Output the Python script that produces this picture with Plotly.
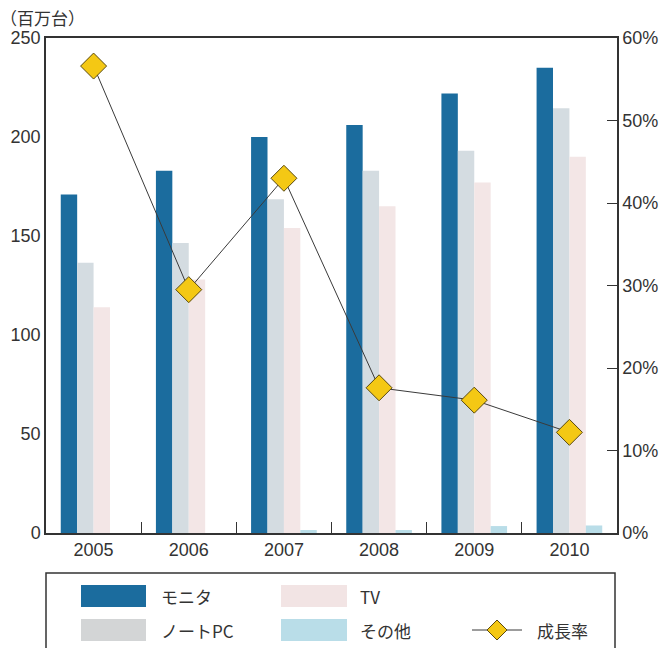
import plotly.graph_objects as go

years = ["2005", "2006", "2007", "2008", "2009", "2010"]
monitor = [171, 183, 200, 206, 222, 235]
note_pc = [136.5, 146.5, 168.5, 183, 193, 214.5]
tv = [114, 128, 154, 165, 177, 190]
other = [0, 0, 1.5, 1.5, 3.5, 3.8]
growth = [0.566, 0.295, 0.43, 0.176, 0.161, 0.122]

names = ["モニタ", "ノートPC", "TV", "その他", "成長率"]
colors = ["#1b6c9e", "#d4dce1", "#f3e6e6", "#b9dde8"]
legend_colors = ["#1b6c9e", "#d3d5d6", "#f2e4e4", "#b9dde8"]

FONT = "Liberation Sans"
CJK = "Noto Sans CJK JP"

W, H = 664, 648
L, R, T, B = 46, 617, 38, 533

fig = go.Figure()
for vals, nm, c in zip([monitor, note_pc, tv, other], names[:4], colors):
    fig.add_trace(go.Bar(x=years, y=vals, name=nm, marker=dict(color=c, line=dict(width=0)),
                         showlegend=False))

fig.add_trace(go.Scatter(x=years, y=growth, name=names[4], yaxis="y2", mode="lines+markers",
                         line=dict(color="#3a3a3a", width=1),
                         marker=dict(symbol="diamond", size=20, color="#f4c814",
                                     line=dict(color="#5a4a10", width=1)),
                         showlegend=False))

def px(x):
    return (x - L) / (R - L)

def py(y):
    return (B - y) / (B - T)

shapes = []
annotations = []
shapes.append(dict(type="rect", xref="paper", yref="paper", x0=px(46), x1=px(615),
                   y0=py(660), y1=py(573), line=dict(color="#333333", width=1.5),
                   fillcolor="white", layer="below"))
leg = [(0, 81, 146, 585, 607, 159), (1, 81, 146, 619, 641, 159),
       (2, 281, 347, 585, 607, 358), (3, 281, 347, 619, 641, 358)]
for i, x0, x1, y0, y1, tx in leg:
    shapes.append(dict(type="rect", xref="paper", yref="paper", x0=px(x0), x1=px(x1),
                       y0=py(y1), y1=py(y0), line=dict(width=0), fillcolor=legend_colors[i]))
    annotations.append(dict(text=names[i], xref="paper", yref="paper", x=px(tx), y=py((y0 + y1) / 2),
                            xanchor="left", yanchor="middle", showarrow=False,
                            font=dict(family=CJK, size=17, color="#333333")))
shapes.append(dict(type="line", xref="paper", yref="paper", x0=px(472), x1=px(522),
                   y0=py(630), y1=py(630), line=dict(color="#3a3a3a", width=1)))
cx, cy, d = 497, 630, 10
path = f"M {px(cx-d)} {py(cy)} L {px(cx)} {py(cy-d)} L {px(cx+d)} {py(cy)} L {px(cx)} {py(cy+d)} Z"
shapes.append(dict(type="path", xref="paper", yref="paper", path=path,
                   fillcolor="#f4c814", line=dict(color="#5a4a10", width=1)))
annotations.append(dict(text=names[4], xref="paper", yref="paper", x=px(535), y=py(630),
                        xanchor="left", yanchor="middle", showarrow=False,
                        font=dict(family=CJK, size=17, color="#333333")))
annotations.append(dict(text="（百万台）", xref="paper", yref="paper", x=px(-2), y=py(18),
                        xanchor="left", yanchor="middle", showarrow=False,
                        font=dict(family=CJK, size=17, color="#333333")))

fig.update_layout(
    width=W, height=H,
    margin=dict(l=L, r=W - R, t=T, b=H - B, pad=0, autoexpand=False),
    paper_bgcolor="white", plot_bgcolor="white",
    barmode="group", bargap=0.31, bargroupgap=0,
    showlegend=False,
    shapes=shapes, annotations=annotations,
    xaxis=dict(type="category", showline=True, linecolor="#333333", linewidth=1.5, mirror=True,
               ticks="inside", tickson="boundaries", ticklen=11, tickcolor="#333333",
               automargin=False,
               tickfont=dict(family=FONT, size=18, color="#333333"), showgrid=False),
    yaxis=dict(range=[0, 250], dtick=50, showline=True, linecolor="#333333", linewidth=1.5,
               mirror=True, ticks="", showgrid=False, zeroline=False, automargin=False,
               tickfont=dict(family=FONT, size=18, color="#333333")),
    yaxis2=dict(range=[0, 0.6], dtick=0.1, tickformat=".0%", overlaying="y", side="right",
                showline=True, linecolor="#333333", linewidth=1.5, ticks="inside", ticklen=10,
                tickcolor="#333333", showgrid=False, zeroline=False, automargin=False,
                tickfont=dict(family=FONT, size=18, color="#333333")),
)

fig.write_html("out.html")
